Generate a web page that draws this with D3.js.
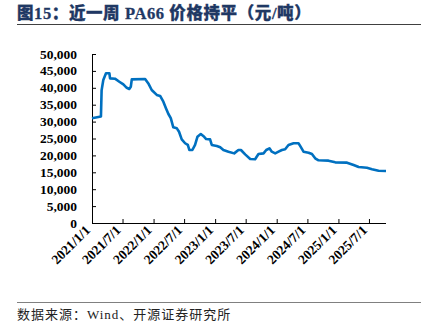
<!DOCTYPE html>
<html><head><meta charset="utf-8">
<script src="https://cdn.jsdelivr.net/npm/d3@7"></script>
<style>body{margin:0;background:#fff;}svg{display:block;}</style>
</head><body>
<svg id="c" width="438" height="328"></svg>
<script>
const titleText = "图15：近一周 PA66 价格持平（元/吨）";
const sourceText = "数据来源：Wind、开源证券研究所";
const dates = ["2021-01-01","2021-02-23","2021-02-27","2021-03-09","2021-03-25","2021-04-14","2021-04-18","2021-05-17","2021-06-12","2021-07-06","2021-07-26","2021-08-10","2021-08-19","2021-08-25","2021-11-12","2021-12-01","2021-12-21","2022-01-20","2022-02-09","2022-02-28","2022-03-16","2022-03-30","2022-04-13","2022-04-28","2022-05-19","2022-06-01","2022-06-17","2022-07-07","2022-07-23","2022-08-01","2022-08-19","2022-09-04","2022-09-18","2022-10-08","2022-10-28","2022-11-09","2022-12-02","2022-12-12","2023-01-11","2023-01-31","2023-02-19","2023-03-21","2023-04-24","2023-05-19","2023-06-03","2023-06-28","2023-07-28","2023-08-26","2023-09-15","2023-10-15","2023-10-31","2023-11-19","2023-12-03","2023-12-23","2024-01-12","2024-02-01","2024-02-20","2024-03-11","2024-04-10","2024-05-09","2024-05-19","2024-06-08","2024-07-08","2024-07-28","2024-08-16","2024-09-05","2024-11-03","2024-12-13","2025-02-21","2025-04-01","2025-05-01","2025-06-19","2025-07-19","2025-08-27","2025-10-10"];
const prices = [31000,31500,39300,42300,44300,44300,42800,42700,41800,41000,40000,39650,40300,42500,42600,41300,39350,37900,37600,35900,33900,32250,31000,28300,28000,27000,24750,23600,23100,21600,21600,23100,25500,26300,25500,24850,24750,23100,22800,22400,21600,21100,20600,21600,21600,20300,18950,18850,20400,20600,21600,22100,21100,20600,21100,21600,21800,23100,23600,23600,22800,21100,20800,20400,19150,18550,18450,17950,17850,17150,16550,16350,15900,15450,15400];
const yTicks = [0,5000,10000,15000,20000,25000,30000,35000,40000,45000,50000];
const xTickLabels = ["2021/1/1","2021/7/1","2022/1/1","2022/7/1","2023/1/1","2023/7/1","2024/1/1","2024/7/1","2025/1/1","2025/7/1"];

const parse = d3.timeParse("%Y-%m-%d");
const parseTick = d3.timeParse("%Y/%m/%d");
const data = dates.map((d,i)=>({date:parse(d), v:prices[i]}));
const svg = d3.select("#c");
const serif = "'Liberation Serif','Times New Roman','Noto Sans CJK SC',serif";

svg.append("text").attr("x",17).attr("y",19)
  .attr("font-family",serif).attr("font-weight","900").attr("font-size",16.5)
  .attr("letter-spacing",0.6)
  .attr("fill","#1F3864").attr("stroke","#1F3864").attr("stroke-width",0.3)
  .text(titleText);
svg.append("line").attr("x1",17).attr("x2",421).attr("y1",24.5).attr("y2",24.5)
  .attr("stroke","#404040").attr("stroke-width",1);
svg.append("line").attr("x1",17).attr("x2",421).attr("y1",302.5).attr("y2",302.5)
  .attr("stroke","#808080").attr("stroke-width",1);
svg.append("text").attr("x",17).attr("y",319)
  .attr("font-family","'Liberation Serif','Noto Sans CJK SC',serif").attr("font-size",13)
  .attr("letter-spacing",1)
  .attr("fill","#222").text(sourceText);

const x = d3.scaleTime().domain([data[0].date, data[data.length-1].date]).range([92,386]);
const y = d3.scaleLinear().domain([0,50000]).range([223,54]);

const yAxis = svg.append("g").attr("transform","translate(92,0)")
  .call(d3.axisRight(y).tickValues(yTicks).tickSize(4).tickFormat(()=>""));
yAxis.select(".domain").attr("d","M0.5,54V223.5");
yAxis.selectAll("line").attr("stroke","#000");
yAxis.selectAll(".domain").attr("stroke","#000");
svg.append("g").selectAll("text").data(yTicks).join("text")
  .attr("x",77).attr("y",d=>y(d)+4.5).attr("text-anchor","end")
  .attr("font-family",serif).attr("font-weight","bold").attr("font-size",13.5)
  .attr("fill","#000").text(d=>d3.format(",")(d));

const xTicks = xTickLabels.map(s=>parseTick(s));
const xAxis = svg.append("g").attr("transform","translate(0,223)")
  .call(d3.axisTop(x).tickValues(xTicks).tickSize(4).tickFormat(()=>""));
xAxis.selectAll("line").attr("stroke","#000");
xAxis.select(".domain").attr("stroke","#000").attr("d","M92,0.5H386");
svg.append("g").selectAll("text").data(xTicks).join("text")
  .attr("transform",d=>`translate(${x(d)-1},${231}) rotate(-45)`)
  .attr("text-anchor","end")
  .attr("font-family",serif).attr("font-weight","bold").attr("font-size",13.5)
  .attr("fill","#000").text((d,i)=>xTickLabels[i]);

svg.append("path").datum(data)
  .attr("fill","none").attr("stroke","#0070C0").attr("stroke-width",2.6)
  .attr("stroke-linejoin","round")
  .attr("d",d3.line().x(d=>x(d.date)).y(d=>y(d.v)));
</script>
</body></html>
